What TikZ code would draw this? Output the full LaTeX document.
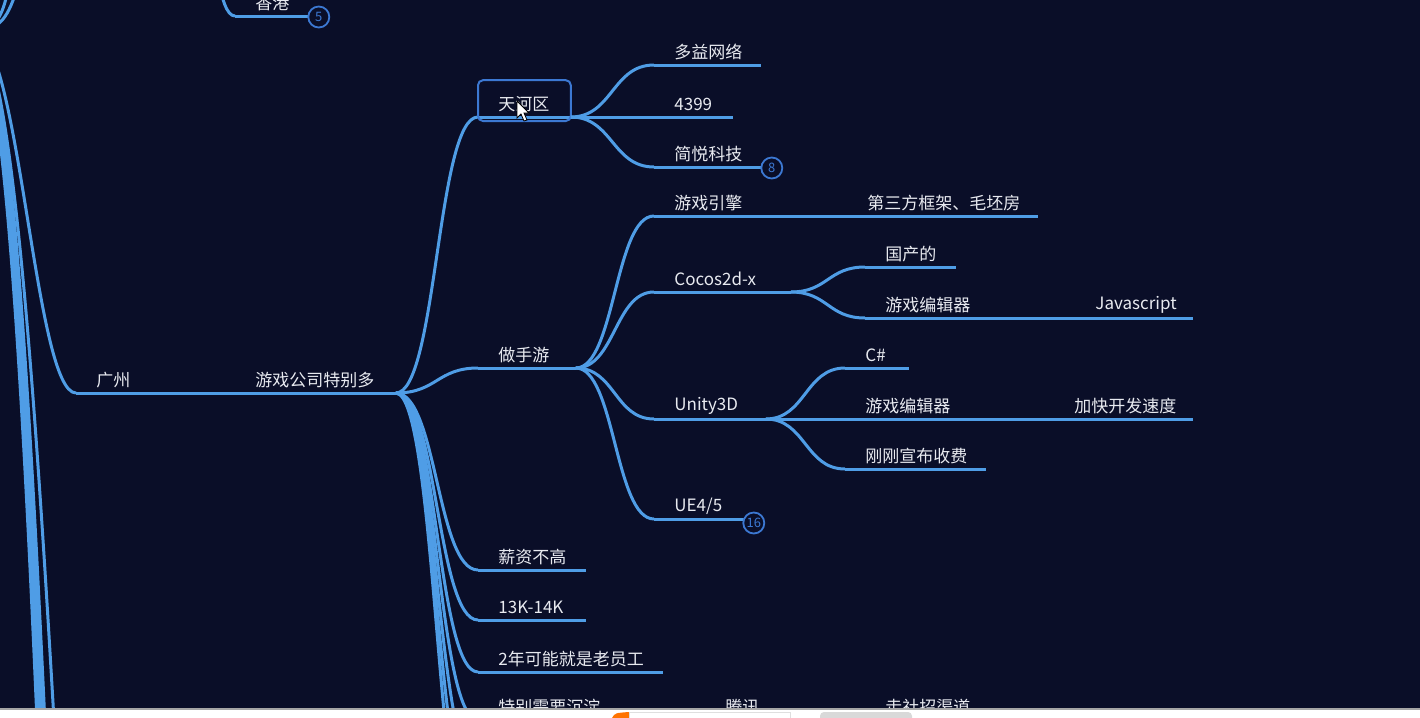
\documentclass[tikz,border=0pt]{standalone}
\usepackage{fontspec}
\newfontfamily\cjk{Noto Sans CJK SC}
\usetikzlibrary{calc}
\usepackage{xcolor}
\definecolor{bgnavy}{HTML}{0A0E28}
\definecolor{lineblue}{HTML}{4F9DE6}
\definecolor{countblue}{HTML}{3C78D2}
\definecolor{textgray}{HTML}{E8EAF0}

\begin{document}
\begin{tikzpicture}[x=0.5pt, y=-0.5pt]
        % ================= 样式定义 =================
        \tikzset{
            % 主题文字:左对齐,下划线在节点底边
            topic/.style={anchor=south west, inner xsep=10pt, inner ysep=0pt, minimum height=12.5pt, align=left, text=textgray, font=\cjk\fontsize{8.5pt}{10pt}\selectfont},
            % 下划线
            under/.style={draw=lineblue, line width=1.5pt},
            % 分支曲线 (S 形)
            branch/.style={draw=lineblue, line width=1.5pt,
                to path={.. controls ($(\tikztostart)!0.5!(\tikztostart -| \tikztotarget)$) and ($(\tikztotarget)!0.5!(\tikztotarget -| \tikztostart)$) .. (\tikztotarget)}},
            % 左侧主干
            trunk/.style={draw=lineblue, line width=2.6pt},
            % 折叠计数小圆圈
            count/.style={circle, draw=countblue, line width=0.9pt, fill=bgnavy, text=countblue, minimum size=10.5pt, inner sep=0pt, font=\cjk\fontsize{6.5pt}{7pt}\selectfont},
            % 选中框
            selbox/.style={draw=countblue, line width=1pt, rounded corners=2.5pt}
        }

        \useasboundingbox (0,0) rectangle (1420,718);
        \fill[bgnavy] (0,0) rectangle (1420,718);
        \clip (0,0) rectangle (1420,718);

        % ================= 左侧主干 =================
        \coordinate (root) at (-25,32);
        \coordinate (up1) at (20,-20);
        \coordinate (up2) at (10,-20);
        \coordinate (down1) at (41,790);
        \coordinate (down2) at (44,790);
        \coordinate (down3) at (47,790);
        \coordinate (down4) at (58,790);
        \draw[branch] (root) .. controls (5,30) and (10,10) .. (up1);
        \draw[branch] (root) .. controls (0,32) and (5,5) .. (up2);
        \draw[trunk] (root) .. controls (5,45) and (25,400) .. (down1);
        \draw[trunk] (root) .. controls (8,45) and (27,400) .. (down2);
        \draw[trunk] (root) .. controls (10,45) and (29,400) .. (down3);
        \draw[branch] (root) .. controls (12,45) and (36,400) .. (down4);

        % ================= 香港 =================
        \coordinate (hkfrom) at (200,-60);
        \node[topic, text width=17.5pt] (hk) at (235,16) {香港};
        \draw[branch] (hkfrom) to (hk.south west);
        \draw[under] (hk.south west) -- (hk.south east);
        \node[count] (hkcount) at ([xshift=4pt,yshift=-0.5pt]hk.south east) {5};

        % ================= 广州 =================
        \node[topic, text width=59.5pt] (gz) at (76,393) {广州};
        \node[topic, text width=60pt] (game) at (235,393) {游戏公司特别多};
        \draw[branch] (root) .. controls (20,40) and (35,393) .. (gz.south west);
        \draw[under] (gz.south west) -- (gz.south east);
        \draw[under] (game.south west) -- (game.south east);

        % --- 第二列 ---
        \node[topic, text width=26pt] (tianhe) at (478,117) {天河区};
        \node[topic, text width=28.5pt] (mobile) at (478,368) {做手游};
        \node[topic, text width=33.5pt] (salary) at (478,570) {薪资不高};
        \node[topic, text width=33.5pt] (pay) at (478,620) {13K-14K};
        \node[topic, text width=72pt] (veteran) at (478,672) {2年可能就是老员工};
        \node[topic, text width=93.5pt] (settle) at (478,720) {特别需要沉淀};
        \coordinate (more1) at (478,770);
        \coordinate (more2) at (478,820);
        \coordinate (more3) at (478,870);
        \foreach \n in {tianhe, mobile, salary, pay, veteran, settle} {
            \draw[branch] (game.south east) to (\n.south west);
            \draw[under] (\n.south west) -- (\n.south east);
        }
        \foreach \n in {more1, more2, more3}
            \draw[branch] (game.south east) to (\n);
        \draw[selbox] ([yshift=-2pt]tianhe.south west) rectangle ([yshift=5.5pt]tianhe.north east);

        % --- 天河区 ---
        \node[topic, text width=33pt] (duoyi) at (654,65) {多益网络};
        \node[topic, text width=19pt] (n4399) at (654,117) {4399};
        \node[topic, text width=34pt] (jianyue) at (654,167) {简悦科技};
        \foreach \n in {duoyi, n4399, jianyue} {
            \draw[branch] (tianhe.south east) to (\n.south west);
            \draw[under] (\n.south west) -- (\n.south east);
        }
        \node[count] (jycount) at ([xshift=4.5pt,yshift=-0.5pt]jianyue.south east) {8};

        % --- 做手游 ---
        \node[topic, text width=76.5pt] (engine) at (654,216) {游戏引擎};
        \node[topic, text width=48pt] (cocos) at (654,292) {Cocos2d-x};
        \node[topic, text width=35.5pt] (unity) at (654,419) {Unity3D};
        \node[topic, text width=25.5pt] (ue) at (654,519) {UE4/5};
        \foreach \n in {engine, cocos, unity, ue} {
            \draw[branch] (mobile.south east) to (\n.south west);
            \draw[under] (\n.south west) -- (\n.south east);
        }
        \node[count] (uecount) at ([xshift=4pt,yshift=-2pt]ue.south east) {16};

        \node[topic, text width=75pt] (third) at (847,216) {第三方框架、毛坯房};
        \draw[under] (third.south west) -- (third.south east);

        % Cocos2d-x
        \node[topic, text width=25pt] (domestic) at (865,267) {国产的};
        \node[topic, text width=85pt] (editorA) at (865,318) {游戏编辑器};
        \node[topic, text width=38.5pt] (js) at (1075,318) {Javascript};
        \foreach \n in {domestic, editorA} {
            \draw[branch] (cocos.south east) to (\n.south west);
            \draw[under] (\n.south west) -- (\n.south east);
        }
        \draw[under] (js.south west) -- (js.south east);

        % Unity3D
        \node[topic, text width=11.5pt] (csharp) at (845,368) {C\#};
        \node[topic, text width=84.5pt] (editorB) at (845,419) {游戏编辑器};
        \node[topic, text width=49pt] (speed) at (1054,419) {加快开发速度};
        \node[topic, text width=50pt] (fee) at (845,469) {刚刚宣布收费};
        \foreach \n in {csharp, editorB, fee} {
            \draw[branch] (unity.south east) to (\n.south west);
            \draw[under] (\n.south west) -- (\n.south east);
        }
        \draw[under] (speed.south west) -- (speed.south east);

        % 特别需要沉淀
        \node[topic, text width=60pt] (tencent) at (705,720) {腾讯};
        \node[topic, text width=37.5pt] (channel) at (865,720) {走社招渠道};
        \draw[under] (tencent.south west) -- (channel.south east);

        % 鼠标指针
        \draw[black, line width=0.4pt, fill=white] (517,101) -- (517,118) -- (521,114) -- (524,121) -- (527,120) -- (524,113) -- (529,113) -- cycle;

        % ================= 底部白条 =================
        \fill[white] (0,709) rectangle (1420,718);
        \draw[gray!70, line width=0.6pt] (0,709) -- (1420,709);
        \fill[orange!90!red] (612,718) .. controls (615,713) .. (629,712) -- (629,718) -- cycle;
        \draw[gray!25, line width=0.5pt] (629,712) rectangle (790,720);
        \fill[gray!30, rounded corners=2pt] (820,712) rectangle (912,722);

    \end{tikzpicture}
\end{document}
